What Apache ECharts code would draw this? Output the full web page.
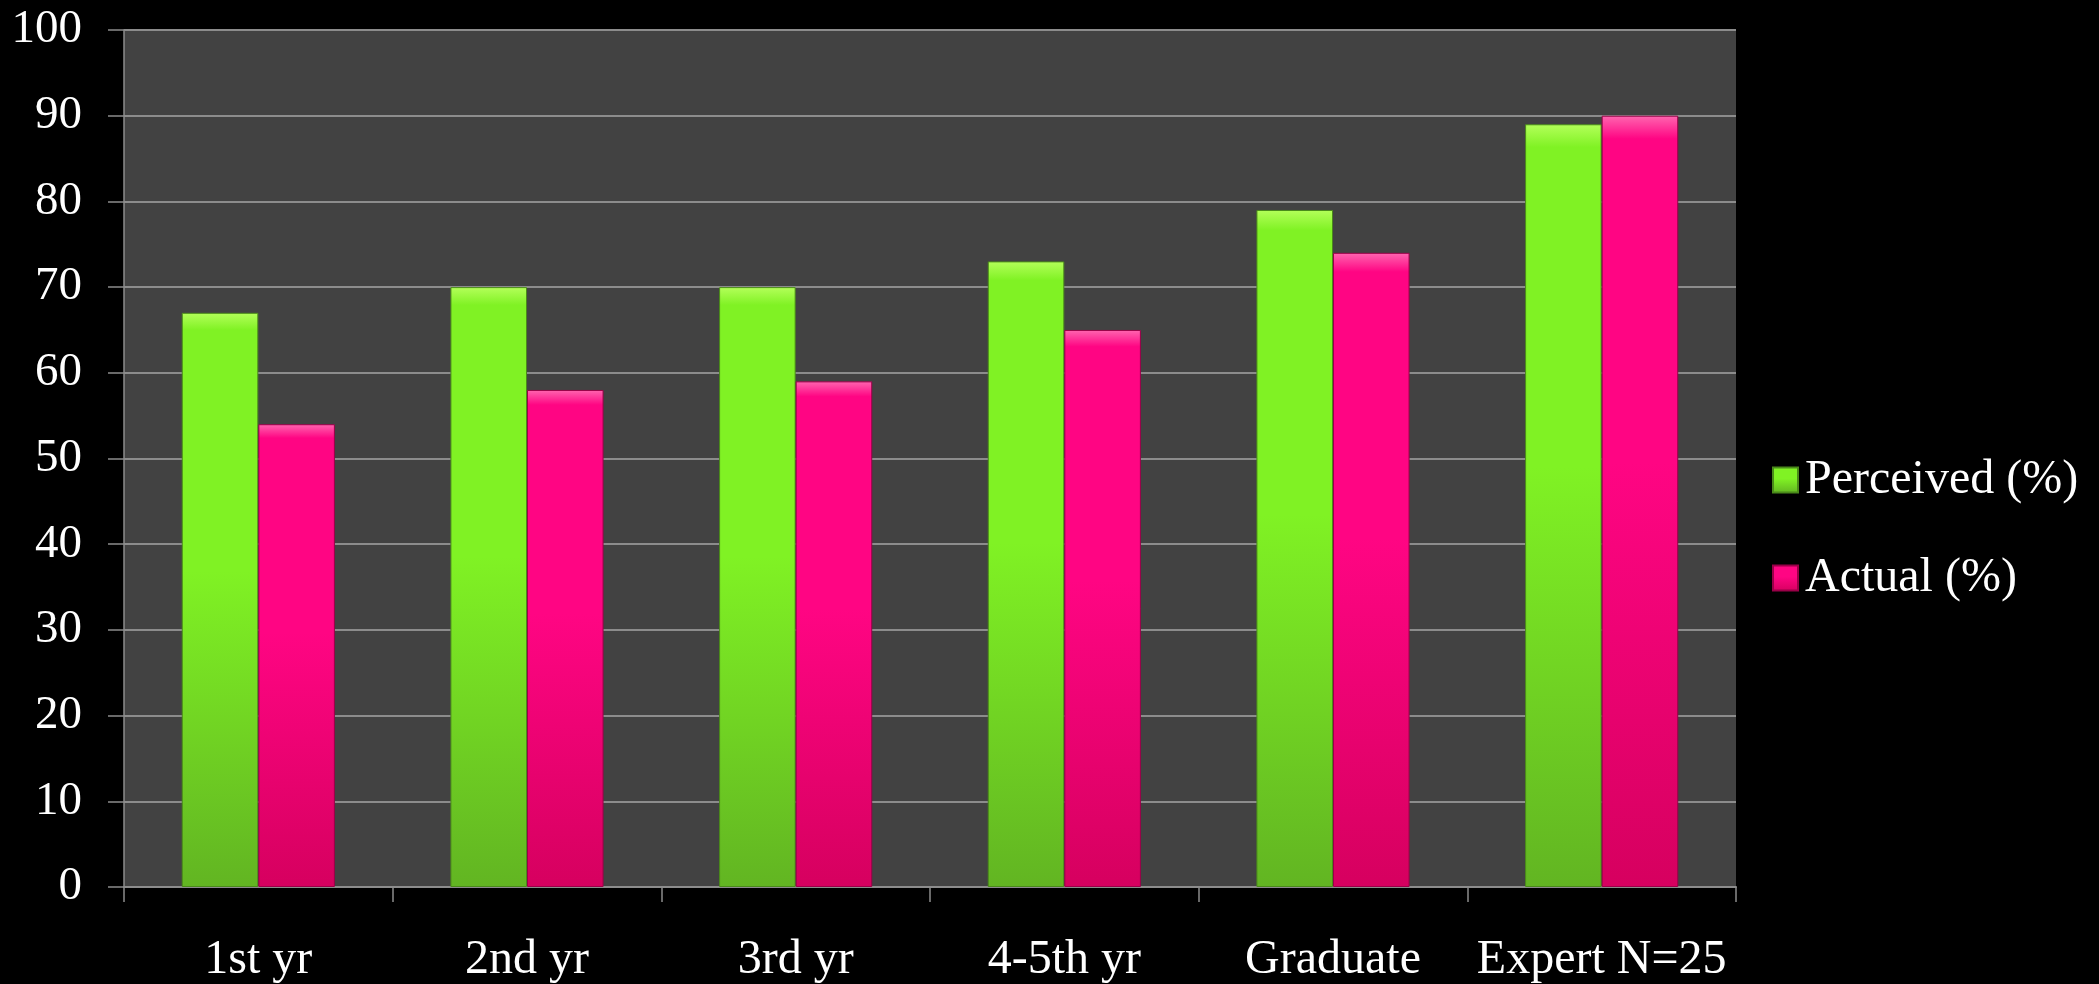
<!DOCTYPE html>
<html>
<head>
<meta charset="utf-8">
<script src="https://cdn.jsdelivr.net/npm/echarts@6/dist/echarts.min.js"></script>
<style>
html,body{margin:0;padding:0;background:#000;}
#c{width:2099px;height:984px;}
</style>
</head>
<body>
<div id="c"></div>
<script>
const categories = ['1st yr', '2nd yr', '3rd yr', '4-5th yr', 'Graduate', 'Expert N=25'];
const perceived = [67, 70, 70, 73, 79, 89];
const actual = [54, 58, 59, 65, 74, 90];
const seriesNames = ['Perceived (%)', 'Actual (%)'];
const yTicks = { min: 0, max: 100, interval: 10 };

const FONT = '"Liberation Serif", "DejaVu Serif", serif';
const chart = echarts.init(document.getElementById('c'));

function grad(top, mid, bottom) {
  return new echarts.graphic.LinearGradient(0, 0, 0, 1, [
    { offset: 0, color: top },
    { offset: 0.03, color: mid },
    { offset: 0.45, color: mid },
    { offset: 1, color: bottom }
  ]);
}

chart.setOption({
  backgroundColor: '#000000',
  animation: false,
  grid: {
    left: 124, right: 2099 - 1736, top: 30, bottom: 984 - 890,
    show: true, backgroundColor: '#424242', borderWidth: 0
  },
  legend: {
    orient: 'vertical',
    left: 1767,
    top: 451,
    itemWidth: 25,
    itemHeight: 25,
    itemGap: 50,
    icon: 'rect',
    textStyle: { color: '#ffffff', fontFamily: FONT, fontSize: 48, lineHeight: 48, padding: [0, 0, 0, 2] },
    data: seriesNames
  },
  xAxis: {
    type: 'category',
    data: categories,
    axisLine: { show: true, lineStyle: { color: '#8c8c8c', width: 2 } },
    axisTick: { show: true, length: 15, lineStyle: { color: '#8c8c8c', width: 1.5 } },
    axisLabel: { color: '#ffffff', fontFamily: FONT, fontSize: 48, margin: 49, interval: 0 },
    splitLine: { show: false }
  },
  yAxis: {
    type: 'value',
    min: yTicks.min, max: yTicks.max, interval: yTicks.interval,
    axisLine: { show: true, lineStyle: { color: '#8c8c8c', width: 1.5 } },
    axisTick: { show: true, length: 16, lineStyle: { color: '#8c8c8c', width: 1.5 } },
    axisLabel: { color: '#ffffff', fontFamily: FONT, fontSize: 47, margin: 42 },
    splitLine: { show: true, lineStyle: { color: '#8c8c8c', width: 2 } }
  },
  series: [
    {
      name: seriesNames[0], type: 'bar', data: perceived,
      barGap: '0%', barCategoryGap: '43%',
      itemStyle: { color: grad('#b4ff5a', '#80f224', '#62b522'), borderColor: '#4a8a1a', borderWidth: 1 }
    },
    {
      name: seriesNames[1], type: 'bar', data: actual,
      barGap: '0%', barCategoryGap: '43%',
      itemStyle: { color: grad('#ff66b0', '#ff0583', '#d6005f'), borderColor: '#9a0048', borderWidth: 1 }
    }
  ]
});
</script>
</body>
</html>
